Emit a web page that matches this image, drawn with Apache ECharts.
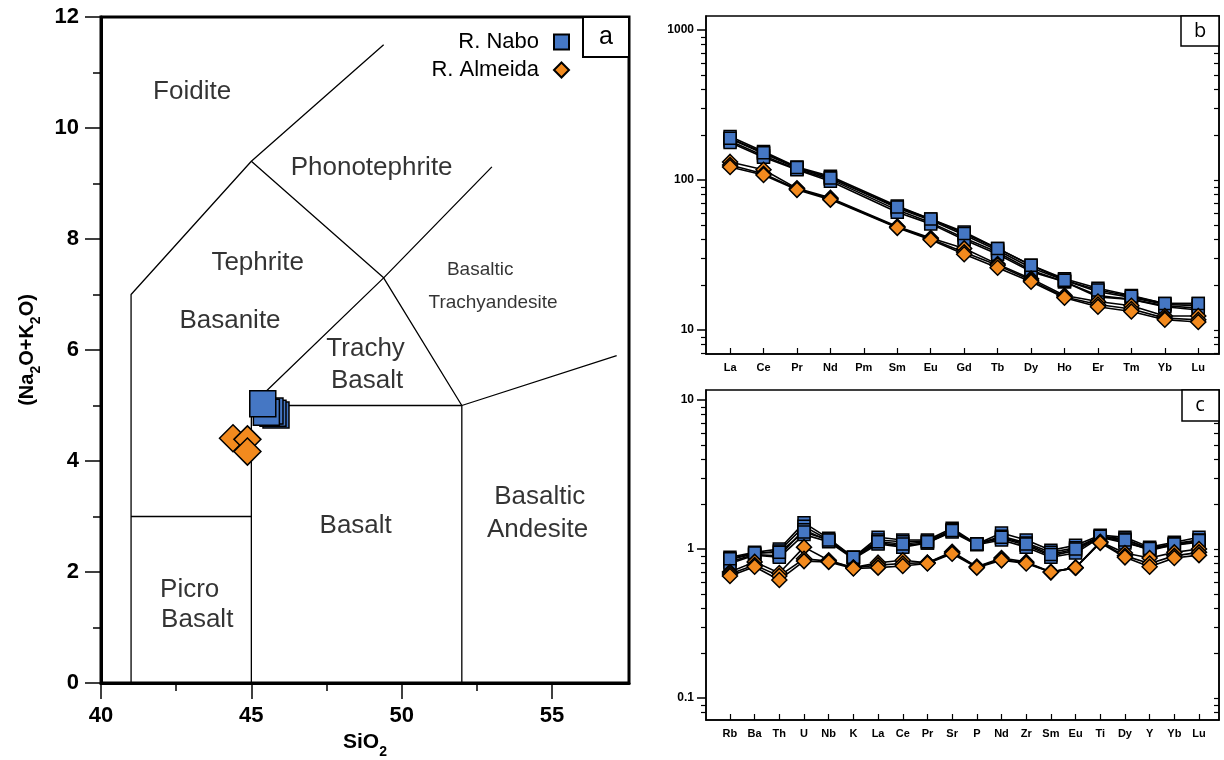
<!DOCTYPE html>
<html><head><meta charset="utf-8">
<script src="https://cdn.jsdelivr.net/npm/echarts@6/dist/echarts.min.js"></script>
<style>html,body{margin:0;padding:0;background:#fff}#c{width:1224px;height:760px}</style>
</head><body><div id="c"></div>
<script>
// ---------- DATA ----------
// Panel a: TAS diagram (SiO2 vs Na2O+K2O)
const taNabo = [[45.82,4.83],[45.72,4.86],[45.62,4.9],[45.5,4.88],[45.38,5.03]];
const taAlmeida = [[44.39,4.41],[44.87,4.39],[44.87,4.17]];
const tasLines = [
  [[41,0],[41,7],[45,9.4],[49.4,11.5]],
  [[41,3],[45,3]],
  [[45,0],[45,5],[49.4,7.3],[53,9.3]],
  [[45,9.4],[49.4,7.3],[52,5],[57.15,5.9]],
  [[45,5],[52,5]],
  [[52,0],[52,5]]
];
const tasNamesBig = ['Foidite','Phonotephrite','Tephrite','Basanite','Trachy','Basalt','Basalt','Basaltic','Andesite','Picro','Basalt'];
const tasNamesBigX = [43.03,49.0,45.21,44.29,48.8,48.85,48.47,54.59,54.52,42.95,43.2];
const tasNamesBigY = [10.65,9.28,7.57,6.52,6.02,5.44,2.83,3.35,2.76,1.68,1.14];
const tasNamesSmall = ['Basaltic','Trachyandesite'];
const tasNamesSmallX = [52.61,53.04];
const tasNamesSmallY = [7.44,6.86];
const taXMajor = [40,45,50,55];
const taXMinor = [42.5,47.5,52.5];

// Panel b: REE (chondrite-normalised)
const reeCats = ['La','Ce','Pr','Nd','Pm','Sm','Eu','Gd','Tb','Dy','Ho','Er','Tm','Yb','Lu'];
const reeNabo = [
  [195,155,122,106,null,67,55,45,35,27,22,19,17,15,15],
  [188,150,120,104,null,65,54,43,34,26,21.5,18,16.5,14.8,14.5],
  [182,145,118,101,null,63,52,41,33,25,21,17,16,14.5,14],
  [178,142,117,98,null,61,51,40,32,24.5,21,16.6,16,14.3,13.6],
  [190,152,121,103,null,66,55,44,35,27,21.5,18.5,16.8,15,15]
];
const reeAlmeida = [
  [132,117,88,76,null,49,41,35,27.5,22,17,15.5,14.5,12.4,12.4],
  [126,110,87,75,null,48.5,40.5,33,27,21.5,16.6,14.8,13.8,12,11.7],
  [122,108,86,74,null,48,40,32,26,21,16.4,14.3,13.3,11.7,11.3]
];
const reeMajorTicks = [10,100,1000];
const reeMinorTicks = [7,8,9,20,30,40,50,60,70,80,90,200,300,400,500,600,700,800,900];

// Panel c: multi-element (normalised)
const meCats = ['Rb','Ba','Th','U','Nb','K','La','Ce','Pr','Sr','P','Nd','Zr','Sm','Eu','Ti','Dy','Y','Yb','Lu'];
const meNabo = [
  [0.88,0.95,1.0,1.5,1.18,0.88,1.2,1.15,1.15,1.38,1.08,1.28,1.15,0.98,1.06,1.24,1.2,1.03,1.11,1.2],
  [0.85,0.93,0.97,1.42,1.15,0.88,1.15,1.12,1.13,1.35,1.08,1.22,1.1,0.95,1.02,1.22,1.17,1.0,1.09,1.15],
  [0.82,0.92,0.9,1.35,1.13,0.87,1.1,1.05,1.1,1.32,1.08,1.18,1.06,0.9,0.98,1.2,1.13,0.98,1.07,1.12],
  [0.8,0.91,0.88,1.25,1.12,0.86,1.08,1.03,1.1,1.3,1.07,1.15,1.03,0.88,0.94,1.2,1.1,1.0,1.06,1.11],
  [0.86,0.94,0.95,1.3,1.15,0.88,1.12,1.08,1.12,1.33,1.08,1.2,1.08,0.92,1.0,1.22,1.15,1.01,1.08,1.14]
];
const meAlmeida = [
  [0.70,0.82,0.69,1.03,0.84,0.75,0.81,0.84,0.81,0.96,0.76,0.87,0.82,0.70,0.75,1.12,0.94,0.87,0.95,1.0],
  [0.68,0.78,0.66,0.86,0.83,0.75,0.78,0.80,0.81,0.94,0.76,0.85,0.81,0.70,0.75,1.11,0.90,0.80,0.90,0.95],
  [0.66,0.76,0.62,0.83,0.82,0.74,0.75,0.77,0.80,0.93,0.75,0.84,0.80,0.70,0.75,1.10,0.88,0.76,0.87,0.91]
];
const meMajorTicks = [0.1,1,10];
const meMinorTicks = [0.08,0.09,0.2,0.3,0.4,0.5,0.6,0.7,0.8,0.9,2,3,4,5,6,7,8,9];

// ---------- STYLE ----------
const BLUE = '#4577C4', ORANGE = '#F28A1E';
const FONT = 'Liberation Sans, Arial, sans-serif';

const idx = n => Array.from({length:n},(_,i)=>i);
const toPts = arr => arr.map((v,i)=>v==null?null:[i,v]).filter(p=>p);

function logYAxes(grid, min, max, major, minor) {
  const base = {gridIndex:grid, type:'log', logBase:10, min:min, max:max, splitLine:{show:false}};
  return [
    Object.assign({}, base, {position:'left',
      axisLine:{show:true, onZero:false, lineStyle:{color:'#000', width:1.5}},
      axisTick:{show:true, customValues:major, length:9, lineStyle:{color:'#000', width:1.5}},
      axisLabel:{show:true, customValues:major, formatter:v=>String(v), fontSize:12, fontWeight:'bold', color:'#000', fontFamily:FONT, margin:12}}),
    Object.assign({}, base, {position:'left',
      axisLine:{show:false, onZero:false},
      axisTick:{show:true, customValues:minor, length:5, lineStyle:{color:'#000', width:1.2}},
      axisLabel:{show:false}}),
    Object.assign({}, base, {position:'right',
      axisLine:{show:true, onZero:false, lineStyle:{color:'#000', width:1.5}},
      axisTick:{show:true, inside:true, customValues:major.concat(minor), length:5, lineStyle:{color:'#000', width:1.2}},
      axisLabel:{show:false}})
  ];
}
function catXAxis(grid, min, max, cats) {
  return {gridIndex:grid, type:'value', position:'bottom', min:min, max:max, splitLine:{show:false},
    axisLine:{show:true, onZero:false, lineStyle:{color:'#000', width:1.5}},
    axisTick:{show:true, inside:true, customValues:idx(cats.length), length:6, lineStyle:{color:'#000', width:1.2}},
    axisLabel:{show:true, customValues:idx(cats.length), formatter:v=>cats[Math.round(v)], fontSize:11, fontWeight:'bold', color:'#000', fontFamily:FONT, margin:8}};
}

const series = [];
// Panel a points
series.push({name:'R. Nabo', type:'scatter', xAxisIndex:0, yAxisIndex:0, symbol:'rect', symbolSize:26,
  itemStyle:{color:BLUE, borderColor:'#000', borderWidth:1.5, opacity:1}, data:taNabo, z:5});
series.push({name:'R. Almeida', type:'scatter', xAxisIndex:0, yAxisIndex:0, symbol:'diamond', symbolSize:27,
  itemStyle:{color:ORANGE, borderColor:'#000', borderWidth:1.5, opacity:1}, data:taAlmeida, z:6});
// TAS field boundaries
tasLines.forEach(l => series.push({type:'line', xAxisIndex:0, yAxisIndex:0, data:l, symbol:'none', silent:true,
  lineStyle:{color:'#000', width:1.3}, z:2, animation:false}));
// TAS field names
series.push({type:'scatter', xAxisIndex:0, yAxisIndex:0, symbolSize:0, silent:true,
  data:tasNamesBig.map((n,i)=>({name:n, value:[tasNamesBigX[i], tasNamesBigY[i]]})),
  label:{show:true, position:'inside', formatter:'{b}', fontSize:26, color:'#000', fontFamily:FONT}});
series.push({type:'scatter', xAxisIndex:0, yAxisIndex:0, symbolSize:0, silent:true,
  data:tasNamesSmall.map((n,i)=>({name:n, value:[tasNamesSmallX[i], tasNamesSmallY[i]]})),
  label:{show:true, position:'inside', formatter:'{b}', fontSize:19, color:'#000', fontFamily:FONT}});

function spider(xi, yi, rows, sym, size, color) {
  rows.forEach(r => series.push({name: color===BLUE?'R. Nabo':'R. Almeida', type:'line', xAxisIndex:xi, yAxisIndex:yi,
    data:toPts(r), symbol:sym, symbolSize:size, showSymbol:true,
    itemStyle:{color:color, borderColor:'#000', borderWidth:1.5},
    lineStyle:{color:'#000', width:1.6}, animation:false}));
}
spider(1, 1, reeNabo, 'rect', 12, BLUE);
spider(1, 1, reeAlmeida, 'diamond', 15, ORANGE);
spider(3, 4, meNabo, 'rect', 12, BLUE);
spider(3, 4, meAlmeida, 'diamond', 15, ORANGE);

const sub = {fontSize:14, fontWeight:'bold', fontFamily:FONT, color:'#000', verticalAlign:'bottom', lineHeight:15};
const mainName = {fontSize:21, fontWeight:'bold', color:'#000', fontFamily:FONT, verticalAlign:'bottom', lineHeight:22, padding:[0,0,6,0]};

const option = {
  animation:false,
  backgroundColor:'#fff',
  textStyle:{fontFamily:FONT},
  grid:[
    {left:101, top:17, width:528, height:666, show:true, borderColor:'#000', borderWidth:3, backgroundColor:'transparent', containLabel:false, outerBoundsMode:'none'},
    {left:706, top:16, width:513, height:338, show:true, borderColor:'#000', borderWidth:1.5, backgroundColor:'transparent', containLabel:false, outerBoundsMode:'none'},
    {left:706, top:390, width:513, height:330, show:true, borderColor:'#000', borderWidth:1.5, backgroundColor:'transparent', containLabel:false, outerBoundsMode:'none'}
  ],
  xAxis:[
    {gridIndex:0, type:'value', position:'bottom', min:40, max:57.56, splitLine:{show:false},
      axisLine:{onZero:false, lineStyle:{color:'#000', width:3}},
      axisTick:{customValues:taXMajor, length:16, lineStyle:{color:'#000', width:1.5}},
      axisLabel:{customValues:taXMajor, fontSize:22, fontWeight:'bold', color:'#000', fontFamily:FONT, margin:22},
      name:'{m|SiO}{s|2}', nameLocation:'middle', nameGap:44,
      nameTextStyle:{rich:{m:mainName, s:sub}}},
    catXAxis(1, -0.72, 14.62, reeCats),
    {gridIndex:0, type:'value', position:'bottom', min:40, max:57.56, splitLine:{show:false},
      axisLine:{show:false, onZero:false},
      axisTick:{customValues:taXMinor, length:8, lineStyle:{color:'#000', width:1.5}},
      axisLabel:{show:false}},
    catXAxis(2, -0.97, 19.81, meCats)
  ],
  yAxis:[
    {gridIndex:0, type:'value', min:0, max:12, interval:2, splitLine:{show:false},
      axisLine:{onZero:false, lineStyle:{color:'#000', width:3}},
      axisTick:{length:16, lineStyle:{color:'#000', width:1.5}},
      minorTick:{show:true, splitNumber:2, length:8, lineStyle:{color:'#000', width:1.5}},
      axisLabel:{fontSize:22, fontWeight:'bold', color:'#000', fontFamily:FONT, margin:22},
      name:'{m|(Na}{s|2}{m|O+K}{s|2}{m|O)}', nameLocation:'middle', nameRotate:90, nameGap:58,
      nameTextStyle:{rich:{m:Object.assign({}, mainName, {fontSize:20}), s:sub}}}
  ].concat(logYAxes(1, 6.92, 1240, reeMajorTicks, reeMinorTicks))
   .concat(logYAxes(2, 0.0711, 11.7, meMajorTicks, meMinorTicks)),
  legend:{show:true, data:[{name:'R. Nabo', icon:'rect'},{name:'R. Almeida', icon:'diamond'}],
    orient:'vertical', align:'right', right:649, top:26, itemWidth:15, itemHeight:15, itemGap:6, selectedMode:false,
    textStyle:{fontSize:22, color:'#000', fontFamily:FONT, padding:[0,10,0,0]}},
  graphic:[
    {type:'rect', shape:{x:583, y:17, width:46, height:40}, style:{fill:'#fff', stroke:'#000', lineWidth:2}, z:100},
    {type:'text', x:606, y:37, style:{text:'a', fontSize:25, fontFamily:FONT, fill:'#000', align:'center', verticalAlign:'middle'}, z:101},
    {type:'rect', shape:{x:1181, y:16, width:38, height:30}, style:{fill:'#fff', stroke:'#000', lineWidth:1.5}, z:100},
    {type:'text', x:1200, y:31, style:{text:'b', fontSize:20, fontFamily:'Open Sans, '+FONT, fill:'#000', align:'center', verticalAlign:'middle'}, z:101},
    {type:'rect', shape:{x:1182, y:390, width:37, height:31}, style:{fill:'#fff', stroke:'#000', lineWidth:1.5}, z:100},
    {type:'text', x:1200, y:405, style:{text:'c', fontSize:20, fontFamily:'Open Sans, '+FONT, fill:'#000', align:'center', verticalAlign:'middle'}, z:101}
  ],
  series:series
};
const chart = echarts.init(document.getElementById('c'), null, {renderer:'canvas'});
chart.setOption(option);
</script></body></html>
